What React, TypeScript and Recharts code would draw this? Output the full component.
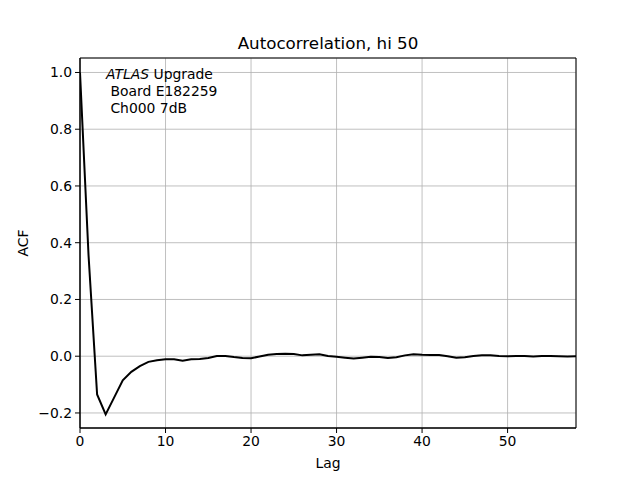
import { LineChart, Line, XAxis, YAxis, CartesianGrid, ReferenceArea } from "recharts";

// ACF values for lags 0..58
const lags = Array.from({ length: 59 }, (_, i) => i);
const acf = [
    1.0, 0.355, -0.135, -0.205, -0.145, -0.085, -0.055, -0.035, -0.02, -0.014,
    -0.011, -0.011, -0.016, -0.011, -0.01, -0.006, 0.001, 0.001, -0.003, -0.006,
    -0.007, -0.001, 0.005, 0.008, 0.009, 0.008, 0.003, 0.005, 0.007, 0.001,
    -0.002, -0.005, -0.008, -0.005, -0.002, -0.003, -0.006, -0.004, 0.003, 0.007,
    0.005, 0.004, 0.004, 0.0, -0.005, -0.004, 0.001, 0.003, 0.003, 0.001,
    0.0, 0.001, 0.001, -0.001, 0.001, 0.001, 0.0, -0.001, 0.0,
];
const xTicks = [0, 10, 20, 30, 40, 50];
const yTicks = [-0.2, 0, 0.2, 0.4, 0.6, 0.8, 1.0];
const xDomain = [0, 58];
const yDomain = [-0.253, 1.051];

const title = "Autocorrelation, hi 50";
const infoLines = ["Board E182259", "Ch000 7dB"];

const font = "'DejaVu Sans', sans-serif";

const fmtY = (v: number) => {
    const s = Math.abs(v) < 1e-9 ? "0.0" : v.toFixed(1);
    return s.replace("-", "\u2212");
};

export default function App() {
    const data = lags.map((lag, i) => ({ lag, acf: acf[i] }));

    return (
        <div style={{ position: "absolute", left: 0, top: 0, width: 640, height: 480, background: "#fff", fontFamily: font }}>
            <LineChart width={640} height={480} data={data} margin={{ top: 58, right: 64, bottom: 22, left: 20 }}>
                <CartesianGrid stroke="#b0b0b0" strokeWidth={0.8} />
                <XAxis
                    dataKey="lag"
                    type="number"
                    domain={xDomain}
                    ticks={xTicks}
                    allowDataOverflow
                    height={30}
                    tickSize={5}
                    tickMargin={3}
                    stroke="#000"
                    tick={{ fontSize: 13.9, fill: "#000", fontFamily: font }}
                    label={{ value: "Lag", position: "insideBottom", offset: -10, fontSize: 13.9, fill: "#000", fontFamily: font }}
                />
                <YAxis
                    type="number"
                    domain={yDomain}
                    ticks={yTicks}
                    allowDataOverflow
                    width={60}
                    tickSize={5}
                    tickMargin={3}
                    stroke="#000"
                    tickFormatter={fmtY}
                    tick={{ fontSize: 13.9, fill: "#000", fontFamily: font }}
                />
                <ReferenceArea x1={xDomain[0]} x2={xDomain[1]} y1={yDomain[0]} y2={yDomain[1]} fill="none" stroke="#000" strokeWidth={1} ifOverflow="visible" />
                <Line type="linear" dataKey="acf" stroke="#000" strokeWidth={2} dot={false} isAnimationActive={false} />
            </LineChart>
            <div style={{ position: "absolute", left: 0, width: 656, top: 33, textAlign: "center", fontSize: 16.7, color: "#000" }}>
                {title}
            </div>
            <div style={{ position: "absolute", left: 23 - 40, top: 243 - 9, width: 80, height: 18, lineHeight: "18px", textAlign: "center", transform: "rotate(-90deg)", fontSize: 13.9, color: "#000" }}>
                ACF
            </div>
            <div style={{ position: "absolute", left: 106, top: 66, fontSize: 13.9, lineHeight: "17px", color: "#000", whiteSpace: "pre" }}>
                <div><i>ATLAS</i> Upgrade</div>
                {infoLines.map((t) => (
                    <div key={t}>{" " + t}</div>
                ))}
            </div>
        </div>
    );
}
